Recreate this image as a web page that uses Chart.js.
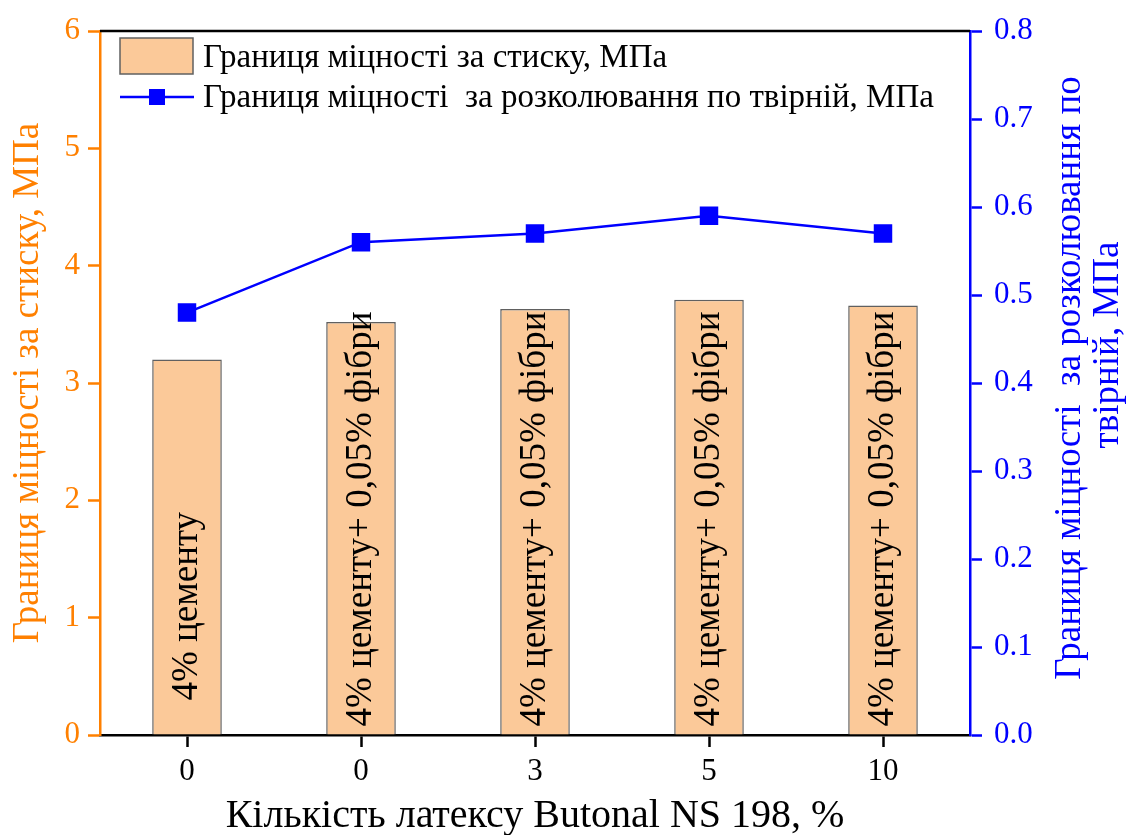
<!DOCTYPE html>
<html>
<head>
<title>Граница міцності</title>
<style>
body { margin:0; background:#fff; }
#wrap { width:1128px; height:835px; }
</style>
</head>
<body>
<script src="https://cdn.jsdelivr.net/npm/chart.js"></script>
<div id="wrap"><canvas id="myChart" width="1128" height="835"></canvas></div>
<script>
// data
var latex = ['0', '0', '3', '5', '10']
var compress = [3.20, 3.52, 3.63, 3.71, 3.66]   // МПа, left axis
var split = [0.48, 0.56, 0.57, 0.59, 0.57]       // МПа, right axis
var notes = ['4% цементу', '4% цементу+ 0,05% фібри', '4% цементу+ 0,05% фібри', '4% цементу+ 0,05% фібри', '4% цементу+ 0,05% фібри']
var noteLift = [34, 8, 8, 8, 8]   // px above the bar base

var serif = "'Liberation Serif', 'Times New Roman', serif"
var ORANGE = '#ff8000'
var BLUE = '#0000ff'

// text written inside the bars + legend + right title
const extras = {
    id: 'extras',
    afterDatasetsDraw(chart) {
        const ctx = chart.ctx
        const bars = chart.getDatasetMeta(1).data
        ctx.save()
        ctx.font = '37px ' + serif
        ctx.fillStyle = '#000'
        ctx.textBaseline = 'middle'
        ctx.textAlign = 'left'
        bars.forEach((b, i) => {
            ctx.save()
            ctx.translate(b.x, b.base - noteLift[i])
            ctx.rotate(-Math.PI / 2)
            ctx.fillText(notes[i], 0, 0)
            ctx.restore()
        })
        ctx.restore()
    },
    afterDraw(chart) {
        const ctx = chart.ctx
        const a = chart.chartArea
        ctx.save()
        // top frame line
        ctx.strokeStyle = '#000'
        ctx.lineWidth = 2.5
        ctx.beginPath()
        ctx.moveTo(a.left, a.top)
        ctx.lineTo(a.right, a.top)
        ctx.stroke()

        // legend
        const ds = chart.data.datasets
        ctx.font = '33px ' + serif
        ctx.textBaseline = 'middle'
        ctx.textAlign = 'left'
        ctx.fillStyle = ds[1].backgroundColor
        ctx.fillRect(a.left + 20, a.top + 7, 73, 36)
        ctx.strokeStyle = '#606060'
        ctx.lineWidth = 1.5
        ctx.strokeRect(a.left + 20, a.top + 7, 73, 36)
        ctx.fillStyle = '#000'
        ctx.fillText(ds[1].label, a.left + 103, a.top + 27)

        ctx.strokeStyle = BLUE
        ctx.lineWidth = 2.5
        ctx.beginPath()
        ctx.moveTo(a.left + 20, a.top + 66)
        ctx.lineTo(a.left + 94, a.top + 66)
        ctx.stroke()
        ctx.fillStyle = BLUE
        ctx.fillRect(a.left + 49, a.top + 58, 16, 16)
        ctx.fillStyle = '#000'
        ctx.fillText(ds[0].label, a.left + 103, a.top + 67)

        // right axis title, reads bottom to top
        ctx.fillStyle = BLUE
        ctx.font = '37px ' + serif
        ctx.textAlign = 'center'
        ctx.save()
        ctx.translate(1070, 378)
        ctx.rotate(-Math.PI / 2)
        ctx.fillText('Границя міцності  за розколювання по', 0, 0)
        ctx.restore()
        ctx.save()
        ctx.translate(1108, 345)
        ctx.rotate(-Math.PI / 2)
        ctx.fillText('твірній, МПа', 0, 0)
        ctx.restore()
        ctx.restore()
    }
}

const ctx = document.getElementById('myChart').getContext('2d')
const myChart = new Chart(ctx, {
    type: 'bar',
    data: {
        labels: latex,
        datasets: [{
            type: 'line',
            label: 'Границя міцності  за розколювання по твірній, МПа',
            data: split,
            yAxisID: 'y1',
            borderColor: BLUE,
            backgroundColor: BLUE,
            borderWidth: 2.5,
            pointStyle: 'rect',
            pointRadius: 11.3,
            pointHoverRadius: 11.3,
            tension: 0,
            order: 1
        }, {
            label: 'Границя міцності за стиску, МПа',
            data: compress,
            yAxisID: 'y',
            backgroundColor: '#fbc999',
            borderColor: '#606060',
            borderWidth: 1.5,
            barPercentage: 0.4,
            categoryPercentage: 1,
            order: 2
        }]
    },
    options: {
        responsive: false,
        animation: false,
        layout: { padding: { top: 31, left: 0, right: 0, bottom: 0 } },
        plugins: {
            legend: { display: false },
            tooltip: { enabled: false }
        },
        scales: {
            x: {
                afterFit: s => { s.height = 100 },
                grid: { offset: false, drawOnChartArea: false, tickLength: 12, tickWidth: 2.5, color: '#000' },
                border: { color: '#000', width: 2.5 },
                ticks: { color: '#000', font: { family: serif, size: 31 }, padding: 6 },
                title: {
                    display: true,
                    text: 'Кількість латексу Butonal NS 198, %',
                    color: '#000',
                    font: { family: serif, size: 40 },
                    padding: { top: 0, bottom: -5 }
                }
            },
            y: {
                position: 'left',
                min: 0,
                max: 6,
                afterFit: s => { s.width = 100 },
                grid: { drawOnChartArea: false, tickLength: 12, tickWidth: 2.5, color: ORANGE },
                border: { color: ORANGE, width: 2.5 },
                ticks: { stepSize: 1, color: ORANGE, font: { family: serif, size: 31 }, padding: 8 },
                title: {
                    display: true,
                    text: 'Границя міцності за стиску, МПа',
                    color: ORANGE,
                    font: { family: serif, size: 37 },
                    padding: { top: 6, bottom: 0 }
                }
            },
            y1: {
                position: 'right',
                min: 0,
                max: 0.8,
                afterFit: s => { s.width = 158 },
                grid: { drawOnChartArea: false, tickLength: 12, tickWidth: 2.5, color: BLUE },
                border: { color: BLUE, width: 2.5 },
                ticks: {
                    stepSize: 0.1,
                    color: BLUE,
                    font: { family: serif, size: 31 },
                    padding: 12,
                    callback: v => v.toFixed(1)
                }
            }
        }
    },
    plugins: [extras]
})
</script>
</body>
</html>
